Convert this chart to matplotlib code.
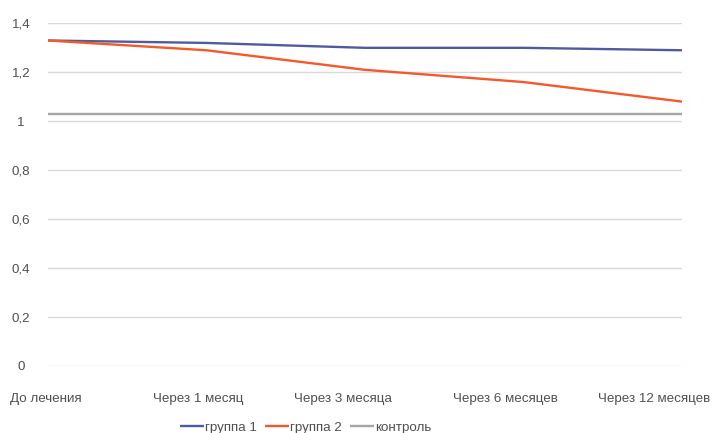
import matplotlib.pyplot as plt
import matplotlib.transforms as mtransforms
from matplotlib import font_manager

# Data: indicator over follow-up period
periods = ['До лечения', 'Через 1 месяц', 'Через 3 месяца', 'Через 6 месяцев', 'Через 12 месяцев']
group1 = [1.33, 1.32, 1.30, 1.30, 1.29]
group2 = [1.33, 1.29, 1.21, 1.16, 1.08]
control = [1.03, 1.03, 1.03, 1.03, 1.03]

names = {f.name for f in font_manager.fontManager.ttflist}
family = ['Liberation Sans Narrow', 'DejaVu Sans'] if 'Liberation Sans Narrow' in names else ['Liberation Sans', 'DejaVu Sans']
plt.rcParams['font.family'] = family
fs = 10.5 if 'Liberation Sans Narrow' in names else 9.6

text_color = '#505050'

fig = plt.figure(figsize=(7.16, 4.33), dpi=100)
ax = fig.add_axes([0.067, 0.1557, 0.8855, 0.7903])

x = list(range(len(periods)))
ax.plot(x, group1, color='#4F5B9E', lw=1.7, label='группа 1', solid_capstyle='butt')
ax.plot(x, group2, color='#F4592B', lw=1.7, label='группа 2', solid_capstyle='butt')
ax.plot(x, control, color='#A5A5A5', lw=1.7, label='контроль', solid_capstyle='butt')

ax.set_xlim(0, len(periods) - 1)
ax.set_ylim(0, 1.4)
ax.set_yticks([0, 0.2, 0.4, 0.6, 0.8, 1.0, 1.2, 1.4])
ax.set_yticklabels(['0', '0,2', '0,4', '0,6', '0,8', '1', '1,2', '1,4'])
ax.grid(axis='y', color='#D9D9D9', lw=1)
ax.set_axisbelow(True)
for s in ax.spines.values():
    s.set_visible(False)

ax.tick_params(axis='y', length=0, pad=19.4, labelsize=fs, labelcolor=text_color)
for lbl in ax.get_yticklabels():
    lbl.set_horizontalalignment('center')

ax.set_xticks(x)
ax.set_xticklabels(periods)
ax.tick_params(axis='x', length=0, pad=20, labelsize=fs, labelcolor=text_color)
# category labels sit on a slightly narrower span than the data points
shifts = [-2, -8, -22, -18, -28]
for lbl, dx in zip(ax.get_xticklabels(), shifts):
    lbl.set_transform(lbl.get_transform() + mtransforms.Affine2D().translate(dx, 0))

fig.legend(loc='center', bbox_to_anchor=(0.427, 0.012), ncol=3, frameon=False,
           fontsize=fs, handlelength=1.8, handletextpad=0.1, columnspacing=0.6,
           labelcolor=text_color)

fig.savefig('out.png', dpi=100, facecolor='white')
